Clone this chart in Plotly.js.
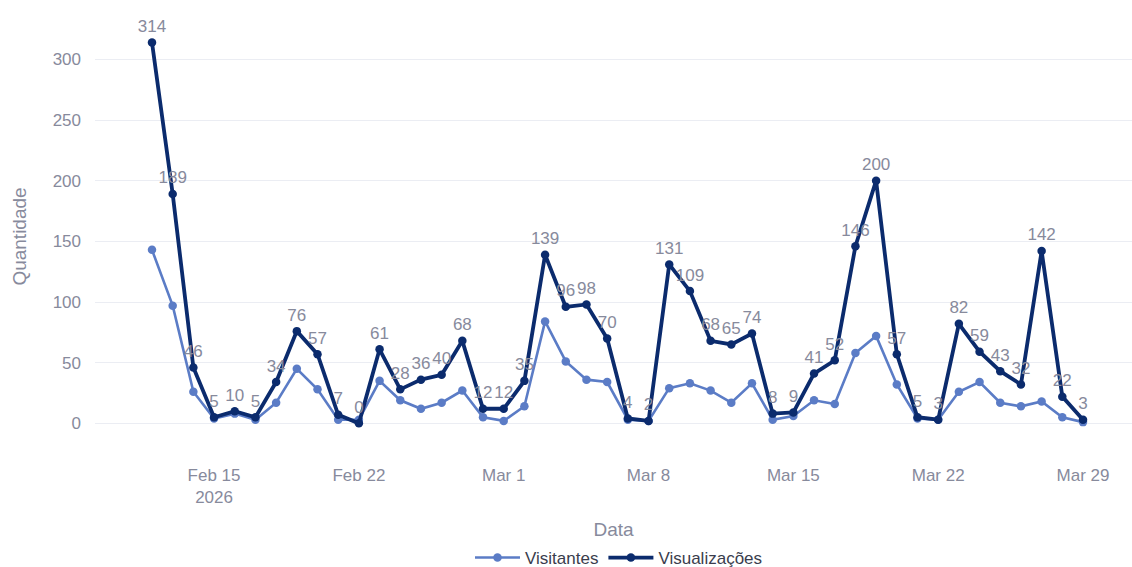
<!DOCTYPE html>
<html>
<head>
<meta charset="utf-8">
<script src="https://cdn.plot.ly/plotly-3.0.1.min.js"></script>
<style>html,body{margin:0;padding:0;background:#fff;}#chart{width:1132px;height:567px;}</style>
</head>
<body>
<div id="chart"></div>
<script>
const startDate = '2026-02-12';
const dayCount = 46;
const visitantes = [143, 97, 26, 4, 8, 3, 17, 45, 28, 3, 3, 35, 19, 12, 17, 27, 5, 2, 14, 84, 51, 36, 34, 3, 2, 29, 33, 27, 17, 33, 3, 6, 19, 16, 58, 72, 32, 4, 3, 26, 34, 17, 14, 18, 5, 1];
const visualizacoes = [314, 189, 46, 5, 10, 5, 34, 76, 57, 7, 0, 61, 28, 36, 40, 68, 12, 12, 35, 139, 96, 98, 70, 4, 2, 131, 109, 68, 65, 74, 8, 9, 41, 52, 146, 200, 57, 5, 3, 82, 59, 43, 32, 142, 22, 3];

const DAY = 86400000;
function isoDay(ms){ return new Date(ms).toISOString().slice(0,10); }
const t0 = Date.parse(startDate + 'T00:00:00Z');
const dates = [];
for (let i = 0; i < dayCount; i++) dates.push(isoDay(t0 + i*DAY));

function iso(ms){ return new Date(ms).toISOString().replace('T',' ').slice(0,19); }
const xRange = [iso(t0 - 2.755*DAY), iso(t0 + 45*DAY + 2.368*DAY)];

const tickGrey = '#878a9c';
const font = 'Arial, "Liberation Sans", sans-serif';
const fs = 17;

const traces = [
  {
    x: dates, y: visitantes, name: 'Visitantes', type: 'scatter', mode: 'lines+markers',
    line: {color: '#5b7cc6', width: 2.6}, marker: {color: '#5b7cc6', size: 8.5}
  },
  {
    x: dates, y: visualizacoes, name: 'Visualizações', type: 'scatter', mode: 'lines+markers+text',
    text: visualizacoes.map(String), textposition: 'top center',
    textfont: {color: tickGrey, size: fs, family: font},
    line: {color: '#0b2b6d', width: 3.8}, marker: {color: '#0b2b6d', size: 8.5}
  }
];

const layout = {
  width: 1132, height: 567,
  margin: {l: 95, r: 0, t: 10, b: 104},
  paper_bgcolor: '#fff', plot_bgcolor: '#fff',
  font: {family: font, size: fs, color: tickGrey},
  showlegend: true,
  legend: {orientation: 'h', x: 470/1132, xanchor: 'left', xref: 'container',
           y: 9/567, yanchor: 'middle', yref: 'container',
           itemwidth: 45,
           font: {color: '#3a3d4d', size: fs}},
  xaxis: {
    type: 'date', range: xRange, tick0: '2026-02-15', dtick: 7*DAY,
    showgrid: false, zeroline: false, showline: false, automargin: false,
    tickfont: {color: tickGrey, size: fs},
    title: {text: 'Data', font: {color: tickGrey, size: 19}, standoff: 32}
  },
  yaxis: {
    range: [-32.7, 340.7], dtick: 50, tick0: 0,
    gridcolor: '#ebedf3', gridwidth: 1, zeroline: false, showline: false, automargin: false,
    ticklabelstandoff: 13,
    tickfont: {color: tickGrey, size: fs},
    title: {text: 'Quantidade', font: {color: tickGrey, size: 19}, standoff: 20}
  }
};

Plotly.newPlot('chart', traces, layout, {displayModeBar: false, staticPlot: true});
</script>
</body>
</html>
